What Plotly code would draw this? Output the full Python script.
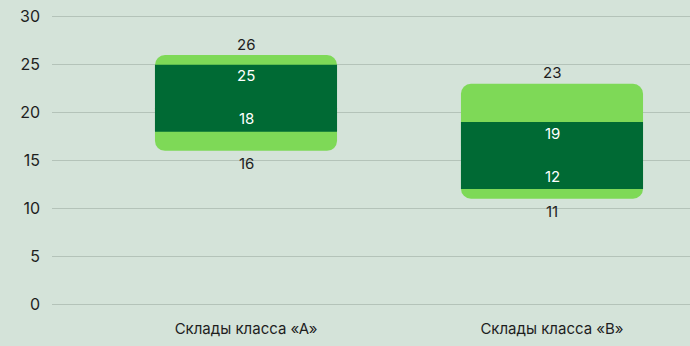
import plotly.graph_objects as go

categories = ["Склады класса «А»", "Склады класса «В»"]
outer_low = [16, 11]
outer_high = [26, 23]
inner_low = [18, 12]
inner_high = [25, 19]
y_ticks = [0, 5, 10, 15, 20, 25, 30]

BG = "#d4e3d9"
LIGHT = "#7ed957"
DARK = "#006a34"
GRID = "#b4c3b9"
TXT = "#1e1e1e"
FONT = "Inter"

fig = go.Figure()
mid = [(a + b) / 2 for a, b in zip(inner_low, inner_high)]
bw = 0.595
# light outer bar in two halves so both ends get rounded corners
fig.add_trace(go.Bar(x=categories, base=mid, y=[h - m for h, m in zip(outer_high, mid)],
                     marker=dict(color=LIGHT, cornerradius=10, line_width=0), width=bw,
                     hoverinfo="skip", showlegend=False))
fig.add_trace(go.Bar(x=categories, base=mid, y=[l - m for l, m in zip(outer_low, mid)],
                     marker=dict(color=LIGHT, cornerradius=10, line_width=0), width=bw,
                     hoverinfo="skip", showlegend=False))
fig.add_trace(go.Bar(x=categories, base=inner_low, y=[h - l for h, l in zip(inner_high, inner_low)],
                     marker=dict(color=DARK, line_width=0), width=bw,
                     hoverinfo="skip", showlegend=False))

for c, ol, oh, il, ih in zip(categories, outer_low, outer_high, inner_low, inner_high):
    fig.add_annotation(x=c, y=oh, text=str(oh), showarrow=False, yshift=11,
                       font=dict(family=FONT, size=15, color=TXT))
    fig.add_annotation(x=c, y=ol, text=str(ol), showarrow=False, yshift=-13,
                       font=dict(family=FONT, size=15, color=TXT))
    fig.add_annotation(x=c, y=ih, text=str(ih), showarrow=False, yshift=-11,
                       font=dict(family=FONT, size=15, color="white"))
    fig.add_annotation(x=c, y=il, text=str(il), showarrow=False, yshift=13,
                       font=dict(family=FONT, size=15, color="white"))

fig.update_layout(
    width=690, height=346,
    margin=dict(l=52, r=0, t=12, b=42),
    paper_bgcolor=BG, plot_bgcolor=BG,
    barmode="overlay",
    font=dict(family=FONT, size=15, color=TXT),
    xaxis=dict(type="category", range=[-0.634, 1.451], showgrid=False, showline=False,
               zeroline=False, ticks="", tickfont=dict(size=15), ticklabelstandoff=14),
    yaxis=dict(range=[0, 30.5], tickvals=y_ticks, showgrid=True, gridcolor=GRID, gridwidth=1,
               zeroline=True, zerolinecolor=GRID, zerolinewidth=1, showline=False,
               ticks="", tickfont=dict(size=16), ticklabelstandoff=11),
)

fig.write_html("out.html")
